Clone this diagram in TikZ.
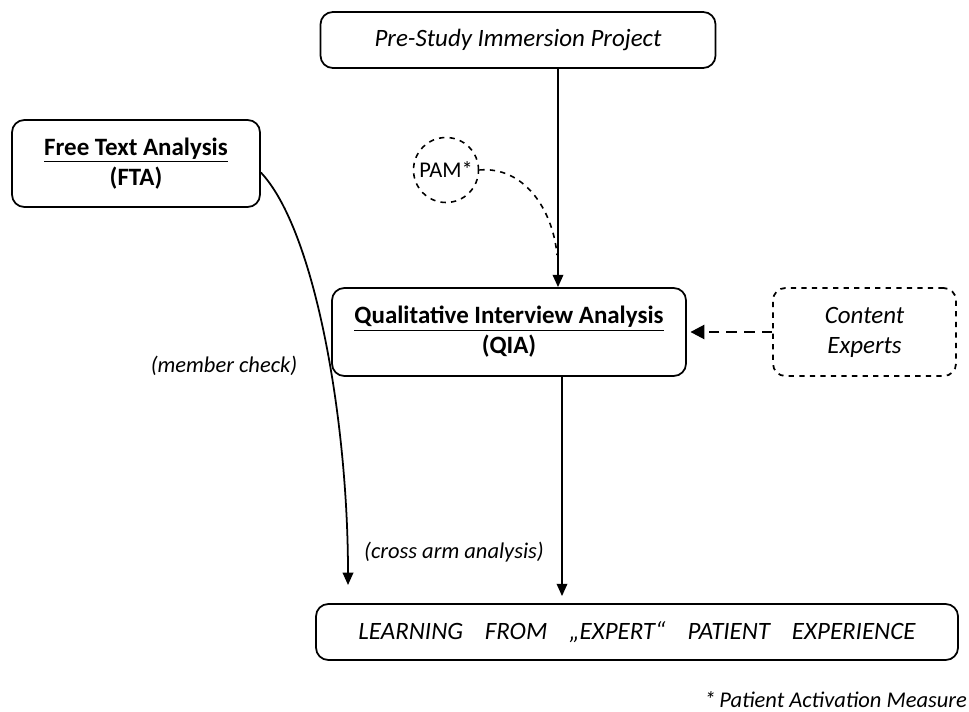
\documentclass[tikz,border=0pt]{standalone}
\usepackage{fontspec}
\setmainfont{Carlito}
\usetikzlibrary{arrows.meta}

\begin{document}
\begin{tikzpicture}[
		font=\fontsize{14.2}{17}\selectfont,
		>={Triangle[length=7pt,width=6pt]},
		box/.style={draw, line width=1pt, rounded corners=7pt, align=center},
		dashbox/.style={box, dashed},
		pamcircle/.style={draw, circle, dashed, line width=0.9pt, minimum size=1.3cm, inner sep=0pt, font=\fontsize{12.8}{15}\selectfont},
		note/.style={font=\fontsize{12.8}{15}\selectfont\itshape}
	]
		\useasboundingbox (0,0) rectangle (19.38,-14.24);
		%Caselle
		\node [box, minimum width=7.9cm, minimum height=1.12cm] (pre) at (10.36,-0.8) {\itshape Pre-Study Immersion Project};
		\node [box, minimum width=4.96cm, minimum height=1.74cm] (fta) at (2.72,-3.27) {\bfseries\underline{Free Text Analysis}\\ \bfseries(FTA)};
		\node [pamcircle] (pam) at (8.92,-3.4) {PAM*};
		\node [box, minimum width=7.08cm, minimum height=1.76cm] (qia) at (10.18,-6.64) {\bfseries\underline{Qualitative Interview Analysis}\\ \bfseries(QIA)};
		\node [dashbox, minimum width=3.66cm, minimum height=1.76cm] (expert) at (17.29,-6.64) {\itshape Content\\ \itshape Experts};
		\node [box, minimum width=12.84cm, minimum height=1.12cm] (learn) at (12.74,-12.64) {\itshape LEARNING\hspace{0.65em} FROM\hspace{0.65em} „EXPERT“\hspace{0.65em} PATIENT\hspace{0.65em} EXPERIENCE};
		%Etichette
		\node [note] (member) at (4.48,-7.32) {(member check)};
		\node [note] (cross) at (9.08,-11.04) {(cross arm analysis)};
		\node [note, anchor=east, inner sep=1pt] (foot) at (19.38,-14.0) {*\,Patient Activation Measure};
		%Frecce
		\coordinate (join) at (11.14,-5.1);
		\coordinate (ftaend) at (6.96,-11.7);
		\draw [->, line width=1pt] ([xshift=0.8cm]pre.south) -- ([xshift=0.98cm]qia.north);
		\draw [dashed, line width=0.9pt] (pam.east) to [out=5, in=95] (join);
		\draw [->, line width=1pt] ([xshift=1.06cm]qia.south) -- ([xshift=-1.5cm, yshift=4pt]learn.north);
		\draw [-{Triangle[length=8pt,width=8pt]}, dash pattern=on 6pt off 4pt, line width=1.5pt] (expert.west) -- ([xshift=2pt]qia.east);
		\draw [->, line width=1pt] ([yshift=-0.18cm]fta.east) .. controls (6.3,-4.6) and (6.96,-8.4) .. (ftaend);
	\end{tikzpicture}
\end{document}
